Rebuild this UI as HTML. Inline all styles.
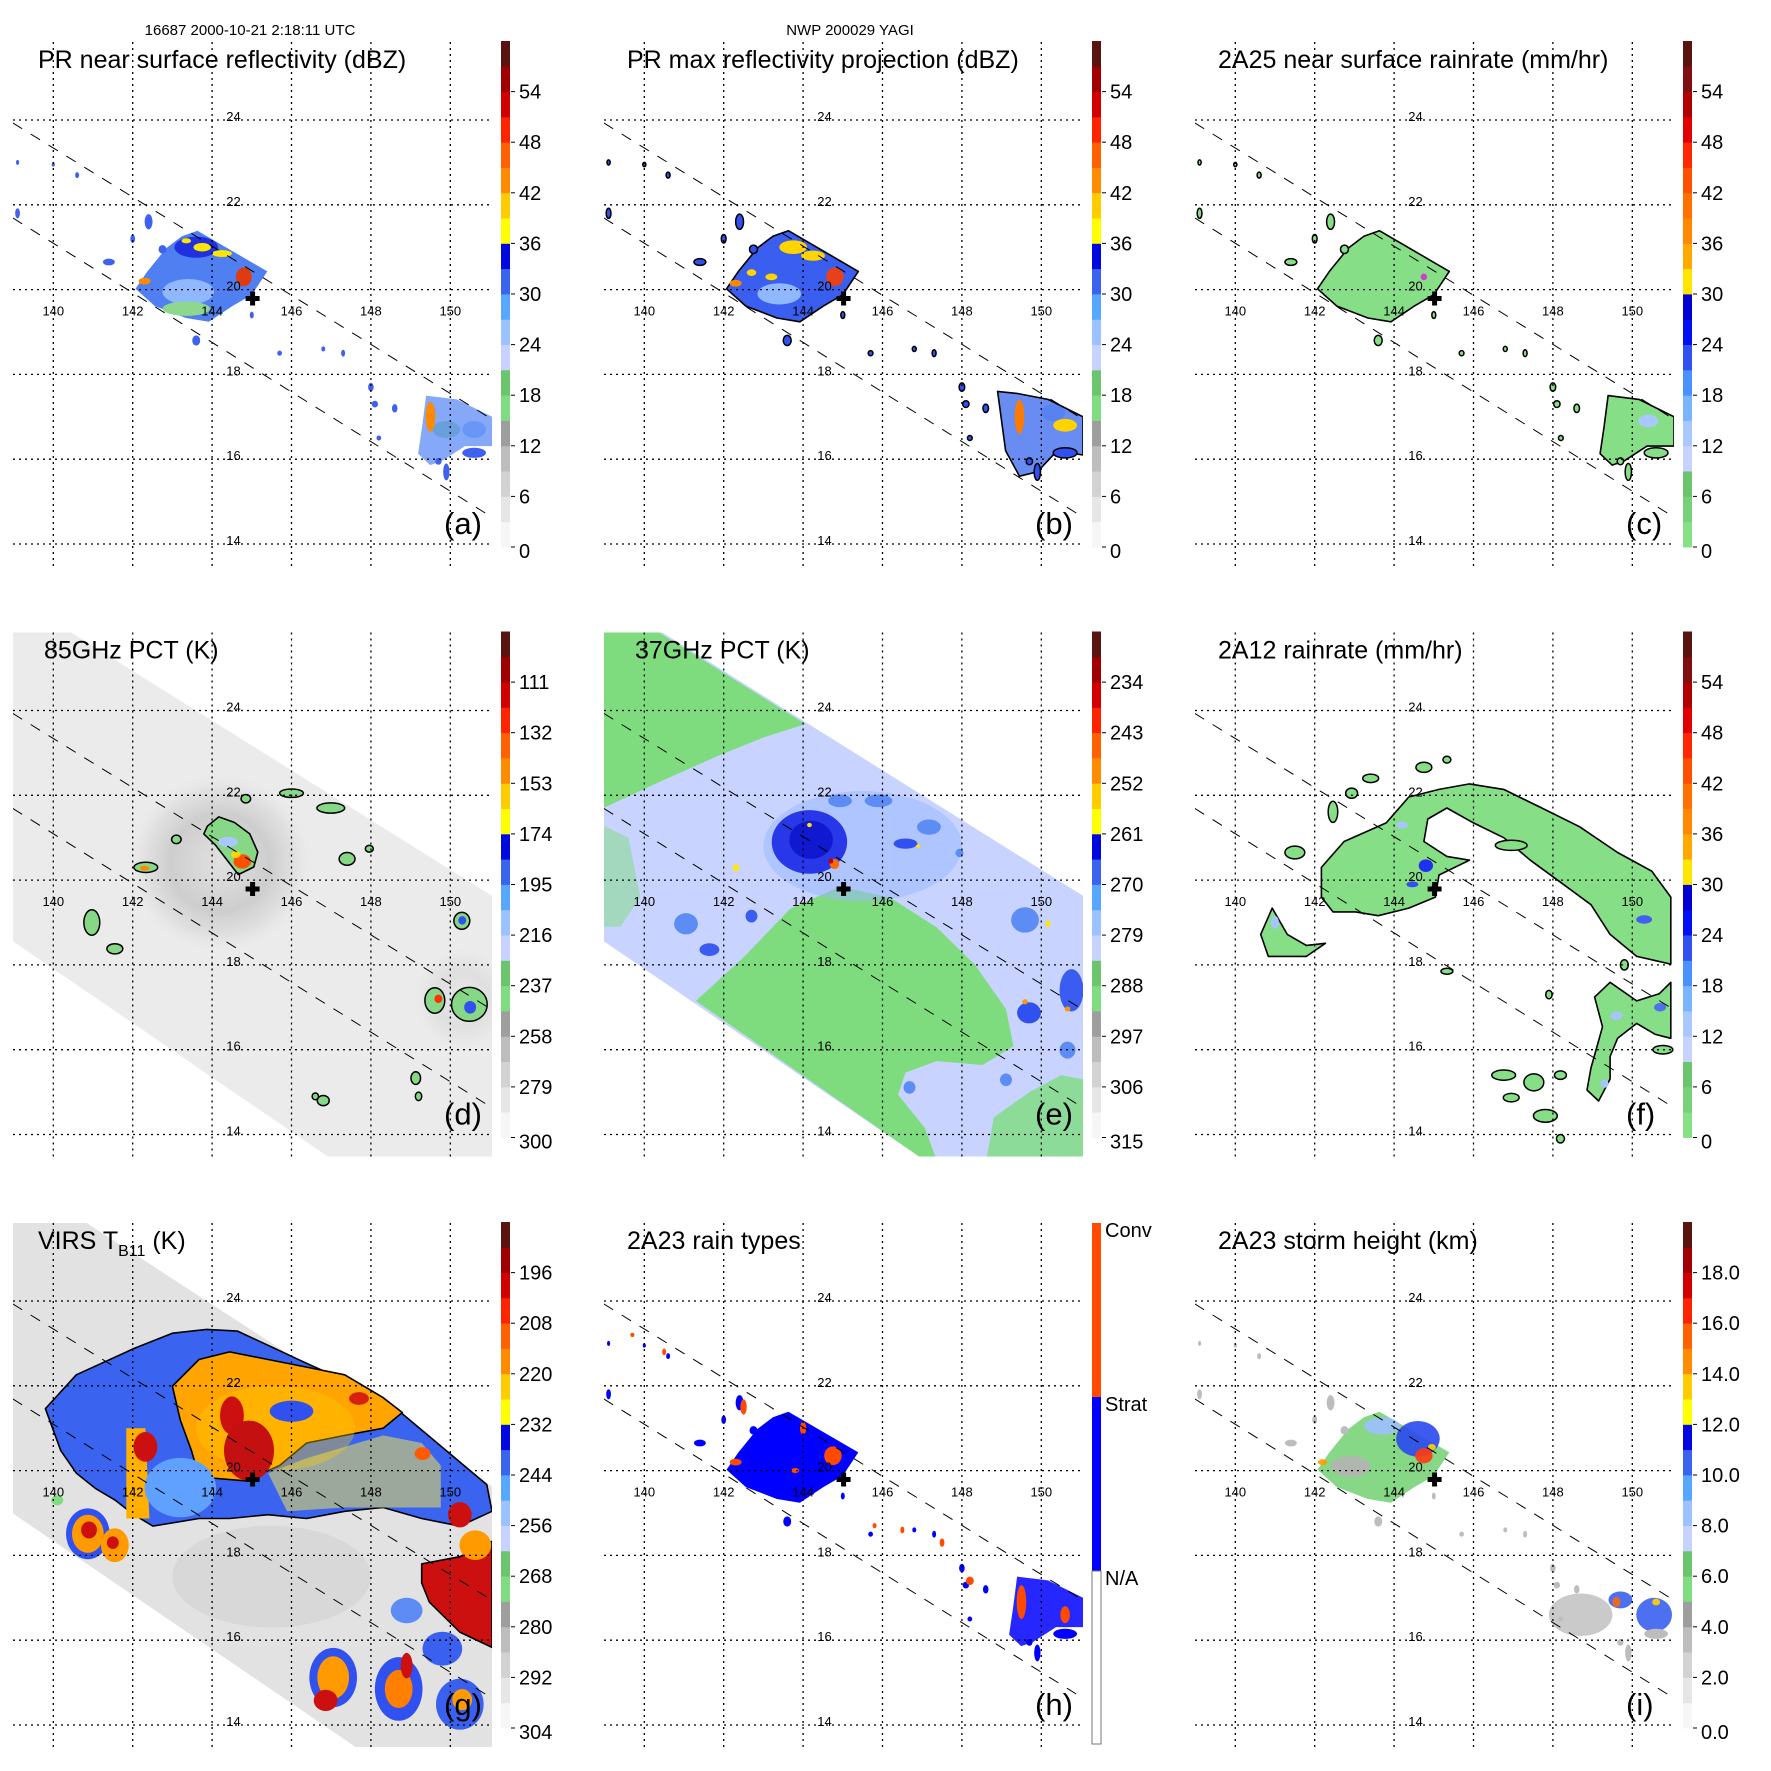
<!DOCTYPE html>
<html><head><meta charset="utf-8"><style>
html,body{margin:0;padding:0;background:#fff;}
svg{display:block;font-family:"Liberation Sans",Arial,sans-serif;}
</style></head><body>
<svg id="fig" width="1771" height="1771" viewBox="0 0 1771 1771" xmlns="http://www.w3.org/2000/svg">
<rect x="0" y="0" width="1771" height="1771" fill="#fff"/>
<text x="250" y="35" font-size="15" text-anchor="middle">16687 2000-10-21 2:18:11 UTC</text>
<text x="850" y="35" font-size="15" text-anchor="middle">NWP 200029 YAGI</text>
<defs>
<clipPath id="frameClip"><rect x="13" y="42" width="479" height="524"/></clipPath>
<radialGradient id="ringGrad" cx="50%" cy="50%" r="50%">
<stop offset="0%" stop-color="#d0d0d0" stop-opacity="0.4"/>
<stop offset="55%" stop-color="#b0b0b0" stop-opacity="0.5"/>
<stop offset="80%" stop-color="#c8c8c8" stop-opacity="0.35"/>
<stop offset="100%" stop-color="#e0e0e0" stop-opacity="0"/>
</radialGradient>
</defs>
</svg>
<script>
// ---- geographic axis ----
const lonTicks = [140, 142, 144, 146, 148, 150];
const latTicks = [24, 22, 20, 18, 16, 14];
const stdLabelsA = ['0','6','12','18','24','30','36','42','48','54'];
const labels85 = ['300','279','258','237','216','195','174','153','132','111'];
const labels37 = ['315','306','297','288','279','270','261','252','243','234'];
const labelsVirs = ['304','292','280','268','256','244','232','220','208','196'];
const labelsHeight = ['0.0','2.0','4.0','6.0','8.0','10.0','12.0','14.0','16.0','18.0'];
const stdColors = ['#f6f6f6','#e6e6e6','#d2d2d2','#bdbdbd','#9e9e9e','#80dc80','#6cc46c','#c8d2ff','#9cc2ff','#56a8ff','#3a64f0','#0008e0','#ffff00','#ffcc00','#ff8c00','#ff6000','#ff2400','#d00000','#a00000','#5a1410'];
const rainColors = ['#86e086','#78d078','#6cc46c','#c8d2ff','#a8c8ff','#78b4ff','#4a90ff','#3050f0','#0010f0','#0000d0','#ffe600','#ffa800','#ff8800','#ff7000','#ff5000','#ff2800','#e00000','#b00000','#801010','#5a1410'];
const center = [145.02, 19.79];
const prUpper = [[138.98, 23.93], [150.95, 17.0]];
const prLower = [[138.98, 21.69], [150.95, 14.69]];
const tmiSwath = [[138.98,25.9],[140.35,25.9],[151.05,19.63],[151.05,13.3],[147.2,13.3],[138.98,18.56]];
const virsSwath = [[138.98,25.9],[140.74,25.9],[151.05,19.63],[151.05,13.3],[147.9,13.3],[138.98,18.99]];

// rain clusters
const mainCluster = [[143.63,21.39],[145.39,20.43],[145.0,19.88],[144.51,19.61],[143.92,19.24],[143.34,19.33],[142.56,19.61],[142.07,20.02],[142.37,20.43],[142.85,20.98],[143.24,21.26]];
const lowerCluster = [[149.39,17.5],[150.17,17.41],[151.05,17.0],[151.05,16.31],[150.37,16.31],[149.78,15.95],[149.49,15.86],[149.19,16.13],[149.29,16.77]];
const lowerClusterB = [[148.9,17.6],[149.4,17.55],[150.17,17.41],[151.05,17.0],[151.05,16.1],[150.4,16.2],[149.9,15.7],[149.45,15.6],[149.1,16.2],[149.0,16.9]];
const scatter = [[139.1,21.8,.06,.12],[142.4,21.6,.1,.18],[141.4,20.65,.15,.08],[142.75,20.95,.1,.1],[142.0,21.2,.06,.1],[146.8,18.6,.05,.06],[147.3,18.5,.05,.08],[148.0,17.7,.07,.1],[148.1,17.3,.08,.08],[148.6,17.2,.07,.1],[148.2,16.5,.06,.06],[149.9,15.7,.08,.2],[149.7,15.95,.08,.08],[150.6,16.15,.3,.12],[140.0,22.95,.04,.05],[140.6,22.7,.05,.07],[143.6,18.8,.1,.12],[145.0,19.4,.05,.08],[139.1,23.0,.04,.06],[145.7,18.5,.06,.06]];

// panel (a)
const blobsA = [[143.4,19.95,.65,.3,'#8fb8ff'],[143.35,19.55,.6,.17,'#8ed88e'],[143.6,21.0,.55,.25,'#2030e0'],[143.75,21.0,.22,.1,'#ffe600'],[144.25,20.85,.25,.08,'#ffe600'],[143.35,21.15,.12,.06,'#ffe600'],[142.3,20.2,.15,.08,'#ff8a00'],[144.8,20.3,.2,.22,'#e03a10'],[149.5,17.0,.12,.35,'#ff8a00'],[150.6,16.7,.3,.2,'#8fb8ff'],[149.9,16.7,.35,.2,'#8ed88e']];
// panel (b)
const blobsB = [[143.4,19.9,.55,.25,'#8fb8ff'],[143.75,21.0,.35,.16,'#ffd400'],[144.25,20.8,.3,.12,'#ffd400'],[142.7,20.4,.12,.08,'#ffd400'],[143.2,20.3,.15,.08,'#ffd400'],[142.3,20.15,.15,.08,'#ff8a00'],[144.8,20.3,.22,.22,'#e8401a'],[149.45,17.0,.12,.4,'#ff7a00'],[150.6,16.8,.3,.15,'#ffd400'],[150.3,17.1,.3,.2,'#8fb8ff']];
// panel (c)
const blobsC = [[144.75,20.3,.08,.08,'#d040d0'],[150.4,16.9,.25,.15,'#a8c8ff']];
// panel (h)
const blobsH = [[144.75,20.35,.22,.22,'#ff4a00'],[142.3,20.2,.15,.08,'#ff4a00'],[142.5,21.5,.08,.18,'#ff4a00'],[144.0,21.0,.08,.15,'#ff4a00'],[143.8,20.0,.1,.06,'#ff4a00'],[149.5,16.9,.12,.4,'#ff4a00'],[150.6,16.6,.12,.2,'#ff4a00'],[146.5,18.6,.05,.08,'#ff4a00'],[147.5,18.3,.06,.1,'#ff4a00'],[145.8,18.7,.05,.06,'#ff4a00'],[139.7,23.2,.05,.05,'#ff4a00'],[140.5,22.8,.05,.08,'#ff4a00'],[148.2,17.4,.1,.1,'#ff4a00']];
// panel (i)
const blobsI = [[144.6,20.75,.55,.42,'#2a48f0'],[143.7,21.05,.45,.2,'#9fc0ff'],[142.9,20.1,.5,.25,'#b4b4b4'],[144.75,20.35,.22,.18,'#ff3a10'],[144.95,20.55,.1,.08,'#ffd400'],[142.2,20.2,.12,.07,'#ff9a00'],[150.55,16.6,.45,.4,'#3a60f0'],[149.7,16.95,.3,.2,'#3a60f0'],[148.7,16.6,.8,.5,'#c4c4c4'],[149.6,16.9,.1,.12,'#ff6a00'],[150.6,16.9,.1,.08,'#ffd400']];

// panel (d)
const blobsD = [[146.99,21.7,.35,.12],[146.0,22.05,.3,.1],[144.85,21.92,.12,.1],[142.33,20.3,.3,.12],[143.1,20.96,.12,.1],[140.97,19.0,.2,.3],[141.55,18.38,.2,.12],[150.29,19.04,.2,.2],[149.61,17.16,.25,.3],[150.48,17.07,.45,.4],[149.13,15.33,.12,.15],[146.8,14.8,.15,.12],[147.96,20.74,.1,.08],[147.4,20.5,.2,.15],[146.6,14.9,.08,.08],[149.2,14.9,.08,.1]];
const mainBlobD = [[143.88,21.27],[144.17,21.49],[144.56,21.36],[144.95,21.09],[145.15,20.66],[145.05,20.31],[144.66,20.13],[144.37,20.48],[144.08,20.83],[143.79,21.09]];
const hotD = [[144.76,20.44,.22,.17,'#ff5000'],[144.6,20.6,.12,.08,'#ffd400'],[144.4,20.9,.25,.12,'#a8c8ff'],[142.3,20.28,.12,.06,'#ff8a00'],[149.7,17.2,.1,.1,'#ff3000'],[150.5,17.0,.15,.15,'#3050f0'],[150.3,19.05,.1,.1,'#3050f0']];

// panel (e)
const greenNW = [[138.94,25.9],[140.27,25.9],[144.06,23.68],[142.99,23.36],[141.83,22.92],[140.56,22.39],[138.94,21.69]];
const greenS = [[141.3,17.15],[142.5,18.18],[143.67,19.32],[144.93,19.85],[146.19,19.59],[147.36,18.89],[148.33,18.0],[149.11,16.96],[149.3,16.08],[148.52,15.64],[147.36,15.73],[146.58,15.46],[146.39,14.94],[147.07,14.15],[147.4,13.3],[147.2,13.3]];
const greenSE = [[148.6,13.3],[148.8,14.4],[149.7,15.0],[150.5,15.4],[151.05,15.3],[151.05,13.3]];
const greenW = [[138.94,21.3],[139.6,21.0],[139.9,19.6],[139.4,18.9],[138.94,18.9]];
const blobsE = [[145.5,20.8,2.5,1.3,'#9ab8ff'],[144.93,21.87,.3,.15,'#5d8cf5'],[145.9,21.87,.35,.15,'#5d8cf5'],[147.17,21.25,.3,.18,'#5d8cf5'],[146.58,20.86,.3,.12,'#3050f0'],[147.94,20.64,.1,.1,'#5d8cf5'],[149.59,19.06,.35,.3,'#5d8cf5'],[150.76,17.4,.3,.5,'#3a5cf0'],[149.69,16.87,.3,.25,'#3050f0'],[141.05,18.97,.3,.25,'#5d8cf5'],[141.64,18.36,.25,.15,'#3a5cf0'],[142.7,19.15,.15,.15,'#3a5cf0'],[146.68,15.11,.15,.15,'#5d8cf5'],[149.11,15.29,.15,.15,'#5d8cf5'],[150.66,15.99,.2,.2,'#5d8cf5'],[144.16,20.9,.95,.75,'#2838e8'],[144.2,20.95,.55,.45,'#1018d0'],[144.79,20.38,.12,.12,'#ff6a00'],[144.7,20.45,.06,.06,'#c00000'],[144.16,21.3,.06,.05,'#ffe600'],[142.31,20.29,.08,.08,'#ffe600'],[150.17,18.97,.06,.08,'#ffe600'],[149.59,17.13,.07,.06,'#ff9a00'],[150.66,16.96,.07,.06,'#ff9a00'],[146.9,20.8,.06,.04,'#ffe600']];

// panel (f)
const arcF = [[142.17,20.3],[142.74,20.91],[143.8,21.35],[144.37,21.96],[145.13,22.14],[145.9,22.27],[146.76,22.14],[147.72,21.7],[148.67,21.26],[149.63,20.65],[150.49,20.21],[150.97,19.6],[150.97,18.02],[150.11,18.2],[149.44,18.72],[148.96,19.42],[148.19,19.95],[147.43,20.47],[146.76,21.0],[146.0,21.35],[145.33,21.7],[144.85,21.44],[144.75,20.91],[145.33,20.56],[145.9,20.47],[145.13,20.12],[145.04,19.6],[144.37,19.34],[143.6,19.16],[143.03,19.25],[142.46,19.25],[142.17,19.6]];
const leftF = [[140.93,19.34],[141.31,18.72],[141.79,18.46],[142.27,18.51],[141.79,18.2],[140.83,18.2],[140.64,18.72]];
const lowerF = [[149.44,17.59],[150.11,17.15],[150.68,17.32],[150.97,17.59],[150.97,16.27],[150.58,16.36],[150.11,16.62],[149.63,16.27],[149.44,15.84],[149.44,15.31],[149.15,14.79],[148.86,15.05],[148.96,15.57],[149.25,16.54],[149.05,17.24]];
const smallF = [[143.41,22.4,.2,.1],[142.93,22.05,.15,.12],[144.75,22.66,.2,.12],[145.33,22.84,.1,.08],[142.46,21.61,.12,.25],[141.5,20.65,.25,.15],[146.95,20.82,.4,.12],[150.77,16.0,.25,.1],[146.76,15.4,.3,.12],[147.52,15.23,.25,.2],[146.95,14.87,.2,.1],[147.81,14.44,.3,.15],[148.19,15.4,.15,.1],[145.33,17.85,.15,.07],[148.19,13.9,.1,.1],[147.9,17.3,.08,.1],[149.8,18.0,.1,.12]];
const spotsF = [[144.8,20.34,.18,.15,'#2030f0'],[144.46,19.9,.15,.07,'#3050f0'],[150.3,19.07,.2,.1,'#4060f0'],[144.2,21.3,.15,.08,'#a8c4ff'],[149.6,16.8,.15,.1,'#a8c4ff'],[141.0,19.0,.1,.15,'#a8c4ff'],[150.7,17.0,.15,.1,'#5070f0'],[149.3,15.2,.1,.1,'#a8c4ff']];

// panel (g)
const cloudG = [[139.8,21.46],[140.58,22.26],[142.03,22.88],[143.0,23.24],[143.86,23.33],[144.64,23.29],[146.38,22.53],[148.31,21.72],[150.92,19.67],[151.05,19.04],[150.24,18.69],[149.28,18.87],[148.31,19.13],[147.34,19.04],[146.38,18.87],[145.41,18.96],[144.44,18.87],[143.67,18.87],[142.51,18.69],[142.03,18.96],[141.55,19.31],[141.06,19.58],[140.58,19.94],[140.19,20.47]];
const grayG = [[145.41,19.94],[146.38,20.29],[147.34,20.56],[148.31,20.83],[149.28,20.65],[149.76,20.12],[149.76,19.13],[148.79,19.13],[147.34,19.13],[145.89,19.04]];
const orangeG = [[143.0,21.99],[143.67,22.62],[144.44,22.8],[145.41,22.62],[146.38,22.44],[147.34,22.26],[148.31,21.72],[148.79,21.37],[148.31,21.0],[147.34,20.83],[146.38,20.65],[145.7,20.12],[144.83,19.76],[143.67,19.85],[143.48,20.47],[143.2,21.19]];
const stripG = [[141.84,21.0],[142.32,21.0],[142.42,18.87],[141.84,18.87]];
const redLR = [[149.28,17.8],[150.24,17.97],[151.05,18.33],[151.05,15.83],[150.24,16.19],[149.47,16.9],[149.28,17.35]];
const blobsG = [[143.2,19.6,.9,.7,'#60a0ff'],[146.0,21.4,.55,.25,'#3050f0'],[144.5,21.3,.3,.45,'#cc1010'],[144.93,20.47,.63,.71,'#c41010'],[142.32,20.56,.3,.35,'#cc1010'],[150.63,18.24,.4,.35,'#ff9a00'],[150.24,18.96,.3,.3,'#cc1010'],[147.7,21.7,.25,.15,'#d82010'],[149.3,20.4,.2,.15,'#ff5a00'],[147.05,15.12,.6,.7,'#3050f0'],[147.05,15.12,.4,.5,'#ff9a00'],[148.7,14.85,.6,.75,'#3050f0'],[148.7,14.85,.35,.45,'#ff8000'],[150.24,14.49,.6,.6,'#3a60f0'],[150.3,14.6,.25,.25,'#ff9a00'],[146.86,14.58,.3,.25,'#cc1010'],[148.9,15.4,.15,.3,'#cc1010'],[140.87,18.51,.55,.6,'#3050f0'],[140.87,18.51,.4,.45,'#ff9a00'],[141.55,18.24,.35,.4,'#ff9a00'],[140.9,18.6,.2,.2,'#cc1010'],[141.5,18.3,.15,.15,'#cc1010'],[140.1,19.3,.15,.12,'#80dc80'],[148.9,16.7,.4,.3,'#5d8cf5'],[149.8,15.8,.5,.4,'#3a60f0']];

// ---- mapping ----
const X0 = 53.3, KX = 39.7, Y0 = 120, KY = 42.4;
function X(lon){ return X0 + (lon - 140) * KX; }
function Y(lat){ return Y0 + (24 - lat) * KY; }
const NS = 'http://www.w3.org/2000/svg';
const svg = document.getElementById('fig');
function mk(tag, attrs, parent){
  const el = document.createElementNS(NS, tag);
  for (const k in attrs) el.setAttribute(k, attrs[k]);
  parent.appendChild(el);
  return el;
}
function polyPath(pts){ return 'M' + pts.map(p => X(p[0]).toFixed(1) + ',' + Y(p[1]).toFixed(1)).join('L') + 'Z'; }
function drawPoly(g, pts, fill, stroke, name, op){
  const el = mk('path', {d: polyPath(pts), fill: fill, stroke: stroke || 'none', 'stroke-width': 1.6, 'fill-opacity': op || 1, 'stroke-linejoin': 'round'}, g);
  
  
  return el;
}
function drawBlob(g, b, fill, stroke, name, op){
  const el = mk('ellipse', {cx: X(b[0]), cy: Y(b[1]), rx: b[2] * KX, ry: b[3] * KY, fill: fill, stroke: stroke || 'none', 'stroke-width': 1.5, 'fill-opacity': op || 1}, g);
  
  
  return el;
}

const panels = [
  {key:'a', col:0, row:0, tx:38, title:'PR near surface reflectivity (dBZ)', colors:stdColors, labels:stdLabelsA},
  {key:'b', col:1, row:0, tx:36, title:'PR max reflectivity projection (dBZ)', colors:stdColors, labels:stdLabelsA},
  {key:'c', col:2, row:0, tx:36, title:'2A25 near surface rainrate (mm/hr)', colors:rainColors, labels:stdLabelsA},
  {key:'d', col:0, row:1, tx:44, title:'85GHz PCT (K)', colors:stdColors, labels:labels85},
  {key:'e', col:1, row:1, tx:44, title:'37GHz PCT (K)', colors:stdColors, labels:labels37},
  {key:'f', col:2, row:1, tx:36, title:'2A12 rainrate (mm/hr)', colors:rainColors, labels:stdLabelsA},
  {key:'g', col:0, row:2, tx:38, title:'VIRS', colors:stdColors, labels:labelsVirs},
  {key:'h', col:1, row:2, tx:36, title:'2A23 rain types', colors:null, labels:null},
  {key:'i', col:2, row:2, tx:36, title:'2A23 storm height (km)', colors:stdColors, labels:labelsHeight}
];

function drawData(key, g){
  if (key === 'a'){
    drawPoly(g, mainCluster, '#4f7ff0', null, 'rain-cluster-main');
    blobsA.forEach(b => drawBlob(g, b, b[4], null, 'echo-cell'));
    drawPoly(g, lowerCluster, '#5c8cf5', null, 'rain-cluster-southeast', 0.75);
    scatter.forEach(b => drawBlob(g, b, '#4060f0', null, 'rain-speck'));
    drawBlob(g, [149.5,17.0,.12,.35], '#ff8a00', null, 'echo-cell');
  } else if (key === 'b'){
    drawPoly(g, mainCluster, '#3a5ef0', '#000', 'rain-cluster-main');
    blobsB.forEach(b => drawBlob(g, b, b[4], null, 'echo-cell'));
    drawPoly(g, lowerClusterB, '#4f78f0', '#000', 'rain-cluster-southeast', 0.85);
    drawBlob(g, [149.45,17.0,.12,.4], '#ff7a00', null, 'echo-cell');
    drawBlob(g, [150.6,16.8,.3,.15], '#ffd400', null, 'echo-cell');
    scatter.forEach(b => drawBlob(g, b, '#3050f0', '#000', 'rain-speck'));
  } else if (key === 'c'){
    drawPoly(g, mainCluster, '#86de86', '#000', 'rain-cluster-main');
    drawPoly(g, lowerCluster, '#86de86', '#000', 'rain-cluster-southeast');
    blobsC.forEach(b => drawBlob(g, b, b[4], null, 'rain-cell'));
    scatter.forEach(b => drawBlob(g, b, '#86de86', '#000', 'rain-speck'));
  } else if (key === 'd'){
    drawPoly(g, tmiSwath, '#ebebeb', null, 'tmi-swath');
    drawBlob(g, [144.2,20.4,2.3,2.1], 'url(#ringGrad)', null, 'eyewall-ring');
    drawBlob(g, [150.3,17.2,1.2,1.2], 'url(#ringGrad)', null, 'rainband-shadow', 0.4);
    drawPoly(g, mainBlobD, '#86d886', '#000', 'convective-core');
    blobsD.forEach(b => drawBlob(g, b, '#86d886', '#000', 'scatter-cell'));
    hotD.forEach(b => drawBlob(g, b, b[4], null, 'cold-pixel'));
  } else if (key === 'e'){
    drawPoly(g, tmiSwath, '#c8d4ff', null, 'tmi-swath');
    drawPoly(g, greenNW, '#7edc7e', null, 'warm-region-nw');
    drawPoly(g, greenW, '#7edc7e', null, 'warm-region-w', 0.5);
    drawPoly(g, greenS, '#7edc7e', null, 'warm-region-s');
    drawPoly(g, greenSE, '#7edc7e', null, 'warm-region-se', 0.8);
    blobsE.forEach((b, i) => drawBlob(g, b, b[4], null, 'scatter-cell', i === 0 ? 0.55 : 1));
  } else if (key === 'f'){
    drawPoly(g, arcF, '#86de86', '#000', 'rainband-arc');
    drawPoly(g, leftF, '#86de86', '#000', 'rainband-west');
    drawPoly(g, lowerF, '#86de86', '#000', 'rainband-southeast');
    smallF.forEach(b => drawBlob(g, b, '#86de86', '#000', 'rain-cell'));
    spotsF.forEach(b => drawBlob(g, b, b[4], null, 'heavy-rain'));
  } else if (key === 'g'){
    drawPoly(g, virsSwath, '#e2e2e2', null, 'virs-swath');
    drawBlob(g, [145.5,17.5,2.5,1.2], '#d4d4d4', null, 'low-cloud', 0.7);
    drawPoly(g, cloudG, '#3a64f0', '#000', 'cloud-shield');
    drawPoly(g, grayG, '#9ca89c', null, 'cloud-gap');
    drawPoly(g, orangeG, '#ffa400', '#000', 'cold-tops');
    drawBlob(g, [145.6,21.0,2.0,1.0], '#ffd000', null, 'cold-edge', 0.35);
    drawPoly(g, stripG, '#ffb000', null, 'cold-strip');
    drawPoly(g, redLR, '#cc1010', '#000', 'cold-core-se');
    blobsG.forEach(b => drawBlob(g, b, b[4], null, 'cloud-cell'));
  } else if (key === 'h'){
    drawPoly(g, mainCluster, '#0000ff', null, 'stratiform-main');
    drawPoly(g, lowerCluster, '#0000ff', null, 'stratiform-southeast', 0.85);
    scatter.forEach(b => drawBlob(g, b, '#0000ff', null, 'rain-speck'));
    blobsH.forEach(b => drawBlob(g, b, b[4], null, 'convective-cell'));
  } else if (key === 'i'){
    drawPoly(g, mainCluster, '#86d886', null, 'echo-top-main');
    blobsI.forEach(b => drawBlob(g, b, b[4], null, 'echo-top-cell', 0.9));
    scatter.forEach(b => drawBlob(g, b, '#bdbdbd', null, 'echo-top-speck'));
  }
}

panels.forEach(p => {
  const ox = p.col * 591, oy = p.row * 590.5;
  const pg = mk('g', {transform: 'translate(' + ox + ',' + oy + ')'}, svg);
  
  
  const clip = mk('g', {'clip-path': 'url(#frameClip)'}, pg);
  
  
  drawData(p.key, clip);
  lonTicks.forEach(lon => {
    const l = mk('line', {x1: X(lon), x2: X(lon), y1: 42, y2: 566, stroke: '#000', 'stroke-width': 1.3, 'stroke-dasharray': '2,4'}, clip);
    
    
  });
  latTicks.forEach(lat => {
    const l = mk('line', {x1: 13, x2: 492, y1: Y(lat), y2: Y(lat), stroke: '#000', 'stroke-width': 1.3, 'stroke-dasharray': '2,4'}, clip);
    
    
  });
  [prUpper, prLower].forEach((ln, i) => {
    const l = mk('line', {x1: X(ln[0][0]), y1: Y(ln[0][1]), x2: X(ln[1][0]), y2: Y(ln[1][1]), stroke: '#000', 'stroke-width': 1, 'stroke-dasharray': '11,10'}, clip);
    
    
  });
  lonTicks.forEach(lon => {
    const t = mk('text', {x: X(lon), y: Y(20) + 26, 'font-size': 13, 'text-anchor': 'middle'}, pg);
    t.textContent = String(lon);
    
    
  });
  latTicks.forEach(lat => {
    const t = mk('text', {x: X(144.54), y: Y(lat) + 1, 'font-size': 13, 'text-anchor': 'middle'}, pg);
    t.textContent = String(lat);
    
    
  });
  const cross = mk('path', {d: 'M' + (X(center[0]) - 7) + ',' + (Y(center[1]) - 2.5) + 'h14v5h-14z M' + (X(center[0]) - 2.5) + ',' + (Y(center[1]) - 7) + 'h5v14h-5z', fill: '#000'}, pg);
  
  
  const tt = mk('text', {x: p.tx, y: 68, 'font-size': 25}, pg);
  
  
  if (p.key === 'g'){
    tt.textContent = 'VIRS T';
    const sub = mk('tspan', {'font-size': 16, dy: 7}, tt);
    sub.textContent = 'B11';
    const rest = mk('tspan', {dy: -7}, tt);
    rest.textContent = ' (K)';
  } else {
    tt.textContent = p.title;
  }
  const lt = mk('text', {x: 444, y: 534, 'font-size': 31}, pg);
  lt.textContent = '(' + p.key + ')';
  
  
  const cb = mk('g', {}, pg);
  
  
  if (p.colors){
    const top = 41, bot = 547, h = (bot - top) / p.colors.length;
    p.colors.forEach((c, i) => {
      mk('rect', {x: 501, y: bot - (i + 1) * h, width: 9, height: h + 0.4, fill: c}, cb);
    });
    p.labels.forEach((lab, k) => {
      const ty = bot - k * (bot - top) / 10;
      mk('line', {x1: 511, x2: 515, y1: ty, y2: ty, stroke: '#000', 'stroke-width': 1}, cb);
      const t = mk('text', {x: 519, y: ty + 7 + (k === 0 ? 4 : 0), 'font-size': 20}, cb);
      t.textContent = lab;
      
      
    });
  } else {
    mk('rect', {x: 501, y: 42, width: 9, height: 174, fill: '#ff4a00'}, cb);
    mk('rect', {x: 501, y: 216, width: 9, height: 174, fill: '#0000ff'}, cb);
    mk('rect', {x: 501, y: 390, width: 9, height: 173, fill: '#fff', stroke: '#777', 'stroke-width': 1}, cb);
    [['Conv', 56], ['Strat', 230], ['N/A', 404]].forEach(a => {
      const t = mk('text', {x: 514, y: a[1], 'font-size': 20}, cb);
      t.textContent = a[0];
      
      
    });
  }
});
</script>
</body></html>
